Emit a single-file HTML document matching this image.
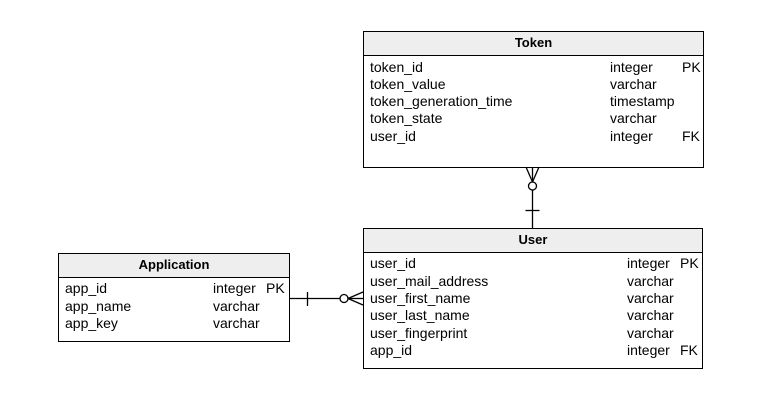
<!DOCTYPE html>
<html><head><meta charset="utf-8"><style>
body{margin:0;background:#fff;}
svg text{font-family:"Liberation Sans",Arial,sans-serif;font-size:14px;fill:#000;}
.h{font-weight:bold;font-size:13px;}
</style></head><body>
<svg width="775" height="402" xmlns="http://www.w3.org/2000/svg">
<rect width="775" height="402" fill="#fff"/>
<!-- Token -->
<rect x="363.5" y="31.5" width="340" height="136" fill="#fff" stroke="#000"/>
<rect x="363.5" y="31.5" width="340" height="24" fill="#eeeeee" stroke="#000"/>
<text class="h" x="533.5" y="47" text-anchor="middle">Token</text>
<g>
<text x="370" y="72">token_id</text><text x="610" y="72">integer</text><text x="682" y="72">PK</text>
<text x="370" y="89">token_value</text><text x="610" y="89">varchar</text>
<text x="370" y="106">token_generation_time</text><text x="610" y="106">timestamp</text>
<text x="370" y="123">token_state</text><text x="610" y="123">varchar</text>
<text x="370" y="141">user_id</text><text x="610" y="141">integer</text><text x="682" y="141">FK</text>
</g>
<!-- User -->
<rect x="363.5" y="228.5" width="339" height="140" fill="#fff" stroke="#000"/>
<rect x="363.5" y="228.5" width="339" height="24" fill="#eeeeee" stroke="#000"/>
<text class="h" x="533" y="244" text-anchor="middle">User</text>
<text x="370" y="268">user_id</text><text x="627" y="268">integer</text><text x="680" y="268">PK</text>
<text x="370" y="286">user_mail_address</text><text x="627" y="286">varchar</text>
<text x="370" y="303">user_first_name</text><text x="627" y="303">varchar</text>
<text x="370" y="320">user_last_name</text><text x="627" y="320">varchar</text>
<text x="370" y="338">user_fingerprint</text><text x="627" y="338">varchar</text>
<text x="370" y="355">app_id</text><text x="627" y="355">integer</text><text x="680" y="355">FK</text>
<!-- Application -->
<rect x="58.5" y="253.5" width="231" height="88" fill="#fff" stroke="#000"/>
<rect x="58.5" y="253.5" width="231" height="24" fill="#eeeeee" stroke="#000"/>
<text class="h" x="174" y="269" text-anchor="middle">Application</text>
<text x="65" y="293">app_id</text><text x="213" y="293">integer</text><text x="266" y="293">PK</text>
<text x="65" y="311">app_name</text><text x="213" y="311">varchar</text>
<text x="65" y="328">app_key</text><text x="213" y="328">varchar</text>
<!-- connectors -->
<g stroke="#000" stroke-width="1.3" fill="none">
<line x1="532.5" y1="190" x2="532.5" y2="228"/>
<line x1="525.5" y1="210.5" x2="539.5" y2="210.5"/>
<circle cx="532.5" cy="186" r="4" fill="#fff"/>
<line x1="532.5" y1="167" x2="532.5" y2="182"/>
<line x1="526" y1="167" x2="532.5" y2="182"/>
<line x1="539" y1="167" x2="532.5" y2="182"/>
<line x1="290" y1="298.5" x2="340" y2="298.5"/>
<line x1="307.5" y1="292" x2="307.5" y2="306"/>
<circle cx="344" cy="298.5" r="4" fill="#fff"/>
<line x1="348" y1="298.5" x2="363" y2="298.5"/>
<line x1="348" y1="298.5" x2="363" y2="292"/>
<line x1="348" y1="298.5" x2="363" y2="305"/>
</g>
</svg>
</body></html>
